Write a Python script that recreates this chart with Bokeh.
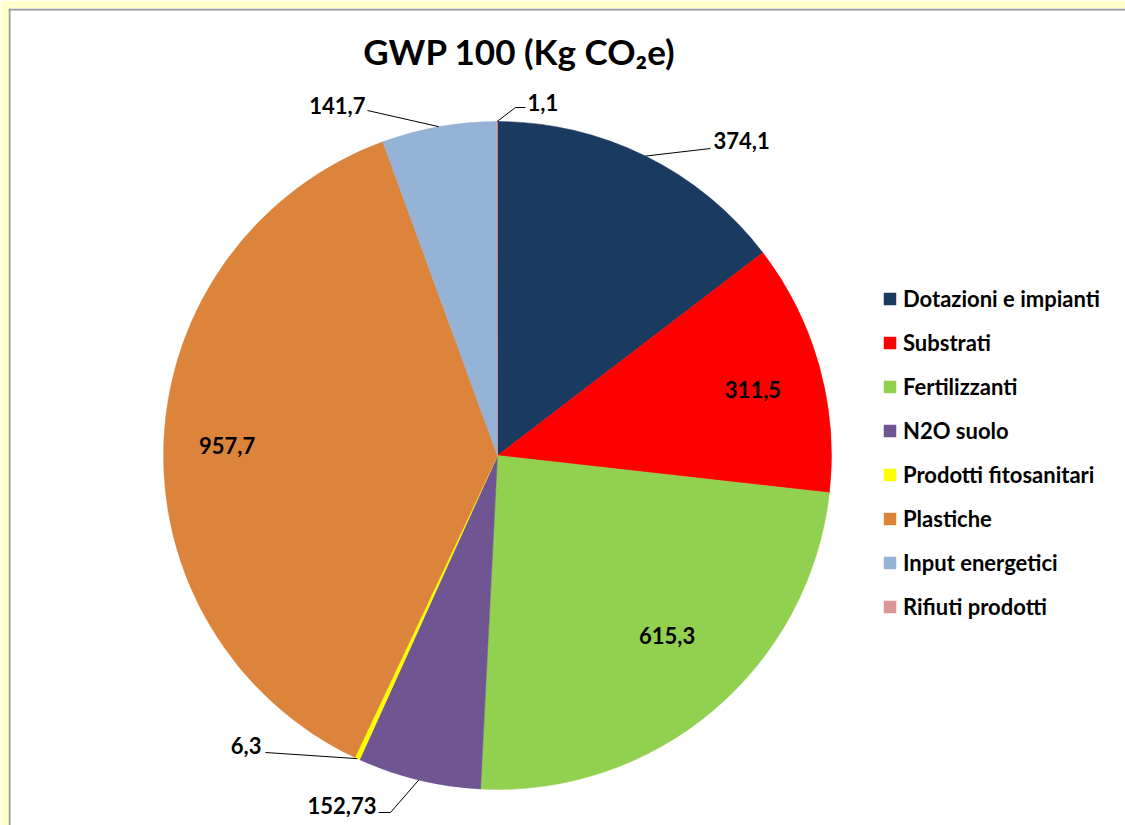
import math
from bokeh.plotting import figure
from bokeh.models import Range1d, ColumnDataSource, Legend, LegendItem, Span
from bokeh.core.properties import value
from bokeh.embed import file_html
from bokeh.resources import INLINE

# ---- data ----
categories = ["Dotazioni e impianti", "Substrati", "Fertilizzanti", "N2O suolo",
              "Prodotti fitosanitari", "Plastiche", "Input energetici", "Rifiuti prodotti"]
values = [374.1, 311.5, 615.3, 152.73, 6.3, 957.7, 141.7, 1.1]
colors = ["#1B3A5F", "#FF0000", "#92D050", "#6F5592", "#FFFF00", "#DD843C", "#95B3D7", "#D99694"]
title_text = "GWP 100 (Kg CO₂e)"

# ---- layout ----
MARGIN = 8
W, H = 1117, 817          # white chart frame size
FONT = "Lato"

def px(x):  # page pixel -> data x
    return x - MARGIN

def py(y):  # page pixel -> data y
    return H - (y - MARGIN)

CX, CY, R = px(497), py(455), 334

# label layout: inside -> (r_frac, dtheta_deg); outside -> (leader points in page px, text pos, align)
label_layout = [
    ("out", [(710, 148)], (713, 140), "left"),
    ("in", 0.79, -1.0),
    ("in", 0.74, 3.0),
    ("out", [(390, 812), (378, 812)], (376, 805), "right"),
    ("out", [(265, 752)], (261, 745), "right"),
    ("in", 0.81, 0.5),
    ("out", [(367, 110)], (365, 105), "right"),
    ("out", [(515, 107), (525, 107)], (527, 102), "left"),
]

p = figure(width=W + MARGIN, height=H + MARGIN, output_backend="svg", toolbar_location=None,
           x_range=Range1d(0, W), y_range=Range1d(0, H),
           x_axis_type=None, y_axis_type=None,
           min_border_left=MARGIN, min_border_top=MARGIN,
           min_border_right=0, min_border_bottom=0,
           background_fill_color="white", border_fill_color="#FFFFCC")
p.grid.visible = False
p.outline_line_color = None

# frame border (top and left visible in the reference)
p.add_layout(Span(location=1, dimension="height", line_color="#9A9A9A", line_width=2))
p.add_layout(Span(location=H - 1, dimension="width", line_color="#9A9A9A", line_width=2))

total = sum(values)
starts, ends, mids = [], [], []
cum = 0.0
for v in values:
    a0 = math.pi / 2 - cum / total * 2 * math.pi
    cum += v
    a1 = math.pi / 2 - cum / total * 2 * math.pi
    starts.append(a0)
    ends.append(a1)
    mids.append((a0 + a1) / 2)

src = ColumnDataSource(dict(x=[CX] * len(values), y=[CY] * len(values),
                            start=starts, end=ends, color=colors, cat=categories))
wr = p.wedge(x="x", y="y", radius=R, radius_units="screen", start_angle="start",
             end_angle="end", direction="clock", fill_color="color",
             line_color="color", line_width=0.5, source=src)

# labels
lx, ly, lt, la = [], [], [], []
lines_x, lines_y = [], []
for i, v in enumerate(values):
    txt = f"{v}".replace(".", ",")
    lay = label_layout[i]
    if lay[0] == "in":
        _, rf, dth = lay
        ang = mids[i] + math.radians(dth)
        lx.append(CX + rf * R * math.cos(ang))
        ly.append(CY + rf * R * math.sin(ang))
        la.append("center")
    else:
        _, pts, tpos, align = lay
        ex = CX + R * math.cos(mids[i])
        ey = CY + R * math.sin(mids[i])
        xs = [ex] + [px(a) for a, b in pts]
        ys = [ey] + [py(b) for a, b in pts]
        lines_x.append(xs)
        lines_y.append(ys)
        lx.append(px(tpos[0]))
        ly.append(py(tpos[1]))
        la.append(align)
    lt.append(txt)

p.multi_line(xs=lines_x, ys=lines_y, line_color="black", line_width=1)
p.text(x=lx, y=ly, text=lt, text_align=la, text_baseline="middle",
       text_font=value(FONT), text_font_style="bold", text_font_size="22px",
       text_color="black")

# title
p.text(x=[px(519)], y=[py(50)], text=[title_text], text_align="center",
       text_baseline="middle", text_font=value(FONT), text_font_style="bold",
       text_font_size="35px", text_color="black")

# legend
items = [LegendItem(label=c, renderers=[wr], index=i) for i, c in enumerate(categories)]
legend = Legend(items=items, location=(874, 205), orientation="vertical",
                glyph_width=15, glyph_height=15, label_standoff=6,
                label_height=27, spacing=17, padding=0, margin=0,
                border_line_color=None, background_fill_alpha=0,
                label_text_font=FONT, label_text_font_style="bold",
                label_text_font_size="22px", label_text_color="black")
p.add_layout(legend)

open("out.html", "w").write(file_html(p, INLINE))
